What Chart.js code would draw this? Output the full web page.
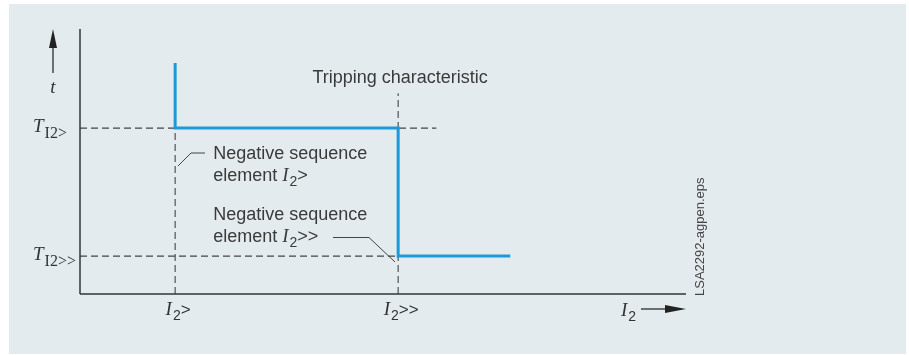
<!DOCTYPE html>
<html lang="en">
  <head>
    <meta charset="UTF-8" />
    <title>Tripping characteristic</title>
    <style>
      html, body { margin: 0; padding: 0; background: #fff; }
      canvas { display: block; }
    </style>
  </head>
  <body>
    <canvas id="chart" width="909" height="355"></canvas>
    <script src="https://cdn.jsdelivr.net/npm/chart.js"></script>
    <script>
      // pickup values (arbitrary units)
      const xPickups = [1.57, 5.25];          // I2>, I2>>
      const xPickupNames = ["I2>", "I2>>"];
      const yDelays = [6.26, 1.43];           // T I2>, T I2>>
      const yDelayNames = ["I2>", "I2>>"];

      // tripping characteristic (stepped)
      const curveX = [1.57, 1.57, 5.25, 5.25, 7.1];
      const curveY = [8.72, 6.26, 6.26, 1.43, 1.43];

      // dashed guide lines
      const guideHighX = [0, 5.88];
      const guideHighY = [6.26, 6.26];
      const guideLowX = [0, 5.25];
      const guideLowY = [1.43, 1.43];
      const guideAX = [1.57, 1.57];
      const guideAY = [0, 6.26];
      const guideBX = [5.25, 5.25];
      const guideBY = [0, 7.58];

      const BLUE = "#1b9ad9";
      const INK = "#333";
      const DASH = "#444";

      const pts = (xs, ys) => xs.map((x, i) => ({ x: x, y: ys[i] }));
      const guide = (xs, ys) => ({
        data: pts(xs, ys),
        borderColor: DASH,
        borderWidth: 1.1,
        borderDash: [7, 4],
        pointRadius: 0,
        showLine: true,
        clip: false,
      });

      const serif = "'Liberation Serif', 'DejaVu Serif', serif";
      const sans = "'Liberation Sans', Arial, sans-serif";

      // draw a run of text pieces (for subscripts), align = left|right|center
      function rich(ctx, parts, x, y, align) {
        let w = 0;
        parts.forEach((p) => { ctx.font = p.font; w += ctx.measureText(p.t).width + (p.gap || 0); });
        let cx = align === "right" ? x - w : align === "center" ? x - w / 2 : x;
        ctx.textAlign = "left";
        ctx.textBaseline = "alphabetic";
        parts.forEach((p) => {
          ctx.font = p.font;
          ctx.fillText(p.t, cx, y + (p.dy || 0));
          cx += ctx.measureText(p.t).width + (p.gap || 0);
        });
      }

      function line(ctx, x1, y1, x2, y2) {
        ctx.beginPath();
        ctx.moveTo(x1, y1);
        ctx.lineTo(x2, y2);
        ctx.stroke();
      }

      function arrowHead(ctx, tipX, tipY, dir) {
        ctx.beginPath();
        if (dir === "up") {
          ctx.moveTo(tipX, tipY);
          ctx.lineTo(tipX - 4, tipY + 19);
          ctx.lineTo(tipX + 4, tipY + 19);
        } else {
          ctx.moveTo(tipX, tipY);
          ctx.lineTo(tipX - 21, tipY - 4);
          ctx.lineTo(tipX - 21, tipY + 4);
        }
        ctx.closePath();
        ctx.fill();
      }

      const panel = {
        id: "panel",
        beforeDraw(chart) {
          const ctx = chart.ctx;
          ctx.save();
          ctx.fillStyle = "#fff";
          ctx.fillRect(0, 0, chart.width, chart.height);
          ctx.fillStyle = "#e4ebef";
          ctx.fillRect(9, 4, 897, 350);
          ctx.restore();
        },
      };

      const decor = {
        id: "decor",
        afterDraw(chart) {
          const ctx = chart.ctx;
          const xs = chart.scales.x;
          const ys = chart.scales.y;
          const a = chart.chartArea;
          ctx.save();

          // axes
          ctx.strokeStyle = "#333";
          ctx.lineWidth = 1.5;
          line(ctx, a.left, a.top, a.left, a.bottom);
          line(ctx, a.left, a.bottom, a.right, a.bottom);

          // t arrow
          ctx.fillStyle = "#222";
          ctx.strokeStyle = "#444";
          ctx.lineWidth = 1.5;
          line(ctx, 53, 46, 53, 73);
          arrowHead(ctx, 53, 29, "up");
          ctx.fillStyle = INK;
          rich(ctx, [{ t: "t", font: "italic 19px " + serif }], 53, 93, "center");

          // I2 arrow
          ctx.strokeStyle = "#444";
          line(ctx, 641, a.bottom + 15, a.right - 10, a.bottom + 15);
          ctx.fillStyle = "#222";
          arrowHead(ctx, a.right, a.bottom + 15, "right");
          ctx.fillStyle = INK;
          rich(ctx, [
            { t: "I", font: "italic 19px " + serif, gap: 1 },
            { t: "2", font: "14px " + sans, dy: 5 },
          ], 636, a.bottom + 22, "right");

          // x tick labels
          xPickups.forEach((v, i) => {
            const px = xs.getPixelForValue(v);
            rich(ctx, [
              { t: "I", font: "italic 19px " + serif, gap: 1 },
              { t: "2", font: "14px " + sans, dy: 5 },
              { t: xPickupNames[i].slice(2), font: "17px " + sans },
            ], px + 3, a.bottom + 21, "center");
          });

          // y tick labels (left aligned in the margin)
          yDelays.forEach((v, i) => {
            const py = ys.getPixelForValue(v);
            rich(ctx, [
              { t: "T", font: "italic 19px " + serif, gap: 1 },
              { t: yDelayNames[i], font: "16px " + serif, dy: 6 },
            ], 33, py + 4, "left");
          });

          // annotations
          const f = "18px " + sans;
          ctx.fillStyle = "#3a3a3a";
          rich(ctx, [{ t: "Tripping characteristic", font: f }], xs.getPixelForValue(xPickups[1]) + 2, 83, "center");

          const ax = xs.getPixelForValue(xPickups[0]) + 38;
          rich(ctx, [{ t: "Negative sequence", font: f }], ax, 159, "left");
          rich(ctx, [
            { t: "element ", font: f },
            { t: "I", font: "italic 19px " + serif, gap: 1 },
            { t: "2", font: "14px " + sans, dy: 5 },
            { t: ">", font: f },
          ], ax, 181, "left");
          rich(ctx, [{ t: "Negative sequence", font: f }], ax, 220, "left");
          rich(ctx, [
            { t: "element ", font: f },
            { t: "I", font: "italic 19px " + serif, gap: 1 },
            { t: "2", font: "14px " + sans, dy: 5 },
            { t: ">>", font: f },
          ], ax, 242, "left");

          // leader lines
          ctx.strokeStyle = "#444";
          ctx.lineWidth = 1;
          ctx.beginPath();
          ctx.moveTo(178, 166);
          ctx.lineTo(191, 153);
          ctx.lineTo(205, 153);
          ctx.stroke();
          ctx.beginPath();
          ctx.moveTo(333, 237.5);
          ctx.lineTo(369, 237.5);
          ctx.lineTo(395, 262);
          ctx.stroke();

          // file tag
          ctx.translate(704, 296);
          ctx.rotate(-Math.PI / 2);
          ctx.fillStyle = "#444";
          ctx.font = "13px " + sans;
          ctx.textAlign = "left";
          ctx.textBaseline = "alphabetic";
          ctx.fillText("LSA2292-agpen.eps", 0, 0);

          ctx.restore();
        },
      };

      new Chart(document.getElementById("chart"), {
        type: "scatter",
        data: {
          datasets: [
            {
              data: pts(curveX, curveY),
              borderColor: BLUE,
              borderWidth: 3,
              pointRadius: 0,
              showLine: true,
              clip: false,
              borderJoinStyle: "miter",
            },
            guide(guideHighX, guideHighY),
            guide(guideLowX, guideLowY),
            guide(guideAX, guideAY),
            guide(guideBX, guideBY),
          ],
        },
        options: {
          responsive: false,
          animation: false,
          devicePixelRatio: 1,
          layout: { padding: { left: 80, right: 223, top: 29, bottom: 61 } },
          plugins: { legend: { display: false }, tooltip: { enabled: false } },
          scales: {
            x: { type: "linear", min: 0, max: 10, display: false },
            y: { type: "linear", min: 0, max: 10, display: false },
          },
        },
        plugins: [panel, decor],
      });
    </script>
  </body>
</html>
